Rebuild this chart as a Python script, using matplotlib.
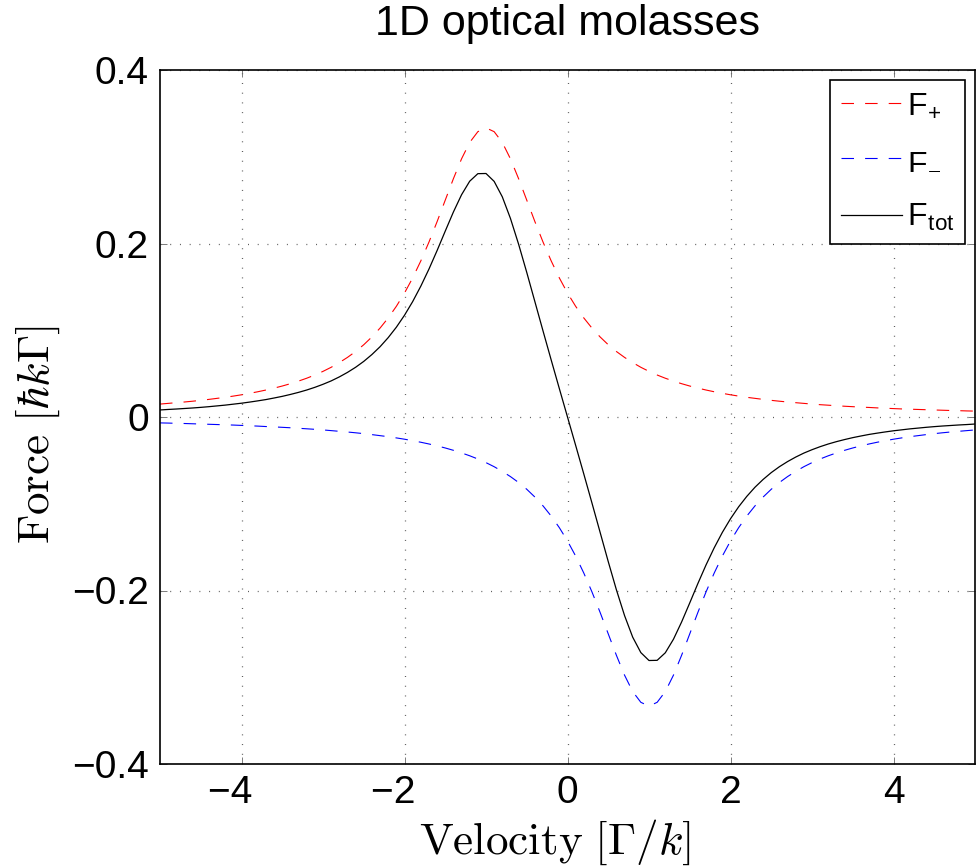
import numpy as np
import matplotlib
matplotlib.use("Agg")
import matplotlib.pyplot as plt

plt.rcParams['font.family'] = ['Liberation Sans', 'DejaVu Sans']
plt.rcParams['mathtext.fontset'] = 'cm'
plt.rcParams['lines.scale_dashes'] = False

velocity = np.linspace(-5, 5, 101)

F_plus = [
    0.0149, 0.0157, 0.0165, 0.0173, 0.0182, 0.0192, 0.0203, 0.0215, 0.0227, 0.0241,
    0.0256, 0.0273, 0.0291, 0.0311, 0.0333, 0.0357, 0.0384, 0.0414, 0.0447, 0.0484,
    0.0526, 0.0573, 0.0627, 0.0687, 0.0755, 0.0833, 0.0923, 0.1025, 0.1142, 0.1276,
    0.1429, 0.1603, 0.1799, 0.2016, 0.2252, 0.2500, 0.2747, 0.2976, 0.3165, 0.3289,
    0.3333, 0.3289, 0.3165, 0.2976, 0.2747, 0.2500, 0.2252, 0.2016, 0.1799, 0.1603,
    0.1429, 0.1276, 0.1142, 0.1025, 0.0923, 0.0833, 0.0755, 0.0687, 0.0627, 0.0573,
    0.0526, 0.0484, 0.0447, 0.0414, 0.0384, 0.0357, 0.0333, 0.0311, 0.0291, 0.0273,
    0.0256, 0.0241, 0.0227, 0.0215, 0.0203, 0.0192, 0.0182, 0.0173, 0.0165, 0.0157,
    0.0149, 0.0142, 0.0136, 0.0130, 0.0124, 0.0119, 0.0114, 0.0110, 0.0105, 0.0101,
    0.0097, 0.0093, 0.0090, 0.0087, 0.0084, 0.0081, 0.0078, 0.0075, 0.0073, 0.0070,
    0.0068,
]

F_minus = [
    -0.0068, -0.0070, -0.0073, -0.0075, -0.0078, -0.0081, -0.0084, -0.0087, -0.0090, -0.0093,
    -0.0097, -0.0101, -0.0105, -0.0110, -0.0114, -0.0119, -0.0124, -0.0130, -0.0136, -0.0142,
    -0.0149, -0.0157, -0.0165, -0.0173, -0.0182, -0.0192, -0.0203, -0.0215, -0.0227, -0.0241,
    -0.0256, -0.0273, -0.0291, -0.0311, -0.0333, -0.0357, -0.0384, -0.0414, -0.0447, -0.0484,
    -0.0526, -0.0573, -0.0627, -0.0687, -0.0755, -0.0833, -0.0923, -0.1025, -0.1142, -0.1276,
    -0.1429, -0.1603, -0.1799, -0.2016, -0.2252, -0.2500, -0.2747, -0.2976, -0.3165, -0.3289,
    -0.3333, -0.3289, -0.3165, -0.2976, -0.2747, -0.2500, -0.2252, -0.2016, -0.1799, -0.1603,
    -0.1429, -0.1276, -0.1142, -0.1025, -0.0923, -0.0833, -0.0755, -0.0687, -0.0627, -0.0573,
    -0.0526, -0.0484, -0.0447, -0.0414, -0.0384, -0.0357, -0.0333, -0.0311, -0.0291, -0.0273,
    -0.0256, -0.0241, -0.0227, -0.0215, -0.0203, -0.0192, -0.0182, -0.0173, -0.0165, -0.0157,
    -0.0149,
]

F_tot = [
    0.0081, 0.0087, 0.0092, 0.0098, 0.0104, 0.0111, 0.0119, 0.0128, 0.0137, 0.0148,
    0.0159, 0.0172, 0.0186, 0.0201, 0.0219, 0.0238, 0.0260, 0.0284, 0.0311, 0.0342,
    0.0377, 0.0416, 0.0462, 0.0514, 0.0573, 0.0641, 0.0720, 0.0810, 0.0915, 0.1035,
    0.1173, 0.1330, 0.1508, 0.1705, 0.1919, 0.2143, 0.2363, 0.2562, 0.2718, 0.2805,
    0.2807, 0.2716, 0.2538, 0.2289, 0.1992, 0.1667, 0.1329, 0.0991, 0.0657, 0.0327,
    0.0000, -0.0327, -0.0657, -0.0991, -0.1329, -0.1667, -0.1992, -0.2289, -0.2538, -0.2716,
    -0.2807, -0.2805, -0.2718, -0.2562, -0.2363, -0.2143, -0.1919, -0.1705, -0.1508, -0.1330,
    -0.1173, -0.1035, -0.0915, -0.0810, -0.0720, -0.0641, -0.0573, -0.0514, -0.0462, -0.0416,
    -0.0377, -0.0342, -0.0311, -0.0284, -0.0260, -0.0238, -0.0219, -0.0201, -0.0186, -0.0172,
    -0.0159, -0.0148, -0.0137, -0.0128, -0.0119, -0.0111, -0.0104, -0.0098, -0.0092, -0.0087,
    -0.0081,
]

x_ticks = [-4, -2, 0, 2, 4]
x_tick_labels = ['\u22124\u2007', '\u22122\u2007', '0', '2', '4']
y_ticks = [-0.4, -0.2, 0, 0.2, 0.4]
y_tick_labels = ['\u22120.4', '\u22120.2', '0', '0.2', '0.4']
legend_labels = [r'F$_\mathregular{+}$', r'F$_\mathregular{-}$', r'F$_\mathregular{tot}$']

W, H = 977, 866
fig = plt.figure(figsize=(W / 100, H / 100), dpi=100)
L, R, T, B = 160, 975, 70, 764
ax = fig.add_axes([L / W, 1 - B / H, (R - L) / W, (B - T) / H])

dash = (9, 8)
ax.plot(velocity, F_plus, color='red', lw=0.8, dashes=dash, label=legend_labels[0])
ax.plot(velocity, F_minus, color='blue', lw=0.8, dashes=dash, label=legend_labels[1])
ax.plot(velocity, F_tot, color='black', lw=0.9, label=legend_labels[2])

ax.set_xlim(-5, 5)
ax.set_ylim(-0.4, 0.4)
ax.set_xticks(x_ticks)
ax.set_xticklabels(x_tick_labels)
ax.set_yticks(y_ticks)
ax.set_yticklabels(y_tick_labels)
ax.tick_params(direction='in', length=5, width=0.6, labelsize=28, pad=8,
               top=True, right=True, color='0.4')
ax.grid(True, color='0.35', lw=0.9, linestyle=(0, (0.7, 6.3)))
for s in ax.spines.values():
    s.set_linewidth(1.2)

ax.set_title('1D optical molasses', fontsize=31, pad=25)
ax.set_xlabel(r'$\mathrm{Velocity}\ [\Gamma/k]$', fontsize=32.5)
ax.set_ylabel(r'$\mathrm{Force}\ [\hbar k\Gamma]$', fontsize=32.5)
ax.xaxis.set_label_coords((555 - L) / (R - L), -(818 - B) / (B - T))
ax.yaxis.set_label_coords(-(L - 62) / (R - L), (B - 435) / (B - T))

leg = ax.legend(loc='upper right', fontsize=23, frameon=True, fancybox=False,
                edgecolor='black', framealpha=1, handlelength=1.9,
                borderaxespad=0.3, labelspacing=0.8, handletextpad=0.15,
                borderpad=0.35)
leg.get_frame().set_linewidth(1.2)

fig.savefig('out.png', dpi=100)
